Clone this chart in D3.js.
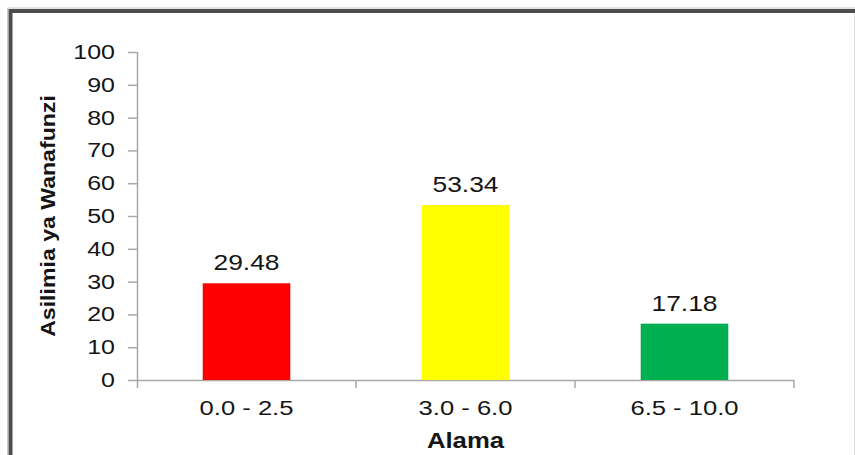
<!DOCTYPE html>
<html>
<head>
<meta charset="utf-8">
<script src="https://cdn.jsdelivr.net/npm/d3@7"></script>
<style>
  html, body { margin: 0; padding: 0; background: #fff; }
  svg { display: block; font-family: "Liberation Sans", Arial, sans-serif; }
</style>
</head>
<body>
<svg id="chart" width="855" height="455"></svg>
<script>
const categories = ["0.0 - 2.5", "3.0 - 6.0", "6.5 - 10.0"];
const values = [29.48, 53.34, 17.18];
const barColors = ["#ff0000", "#ffff00", "#00b050"];
const yTicks = [0, 10, 20, 30, 40, 50, 60, 70, 80, 90, 100];
const xTitle = "Alama";
const yTitle = "Asilimia ya Wanafunzi";

const W = 855, H = 455;
const plot = { left: 137, right: 794, top: 52, bottom: 380 };
const textColor = "#151515";
const axisColor = "#a8a8a8";

const svg = d3.select("#chart");

// frame
svg.append("path")
  .attr("d", `M10.5,${H}V11H${W}`)
  .attr("fill", "none")
  .attr("stroke", "#4d4d4d")
  .attr("stroke-width", 4);
svg.append("path")
  .attr("d", `M7.5,${H}V8H${W}`)
  .attr("fill", "none")
  .attr("stroke", "#c8c8c8")
  .attr("stroke-width", 1);
svg.append("line")
  .attr("x1", W - 0.5).attr("x2", W - 0.5)
  .attr("y1", 13).attr("y2", H)
  .attr("stroke", "#dcdcdc").attr("stroke-width", 1);

const x = d3.scaleBand()
  .domain(categories)
  .range([plot.left, plot.right])
  .paddingInner(0.6)
  .paddingOuter(0.3);

const y = d3.scaleLinear()
  .domain([0, 100])
  .range([plot.bottom, plot.top]);

// y axis
const yAxisG = svg.append("g")
  .attr("transform", `translate(${plot.left},0)`)
  .call(d3.axisLeft(y).tickValues(yTicks).tickSize(9).tickSizeOuter(0));
yAxisG.select(".domain")
  .attr("d", `M0.5,${y(100)}V${y(0) + 8}`)
  .attr("stroke", axisColor).attr("stroke-width", 1.5);
yAxisG.selectAll(".tick line").attr("stroke", axisColor).attr("stroke-width", 1.5);
const sTick = 1.25;
yAxisG.selectAll(".tick text")
  .attr("x", -22 / sTick)
  .attr("dy", "0.32em")
  .attr("transform", `scale(${sTick},1)`)
  .attr("fill", textColor)
  .attr("font-size", 20)
  .attr("font-family", "Liberation Sans, Arial, sans-serif");

// x axis
const xAxisG = svg.append("g")
  .attr("transform", `translate(0,${y(0)})`);
xAxisG.append("line")
  .attr("x1", plot.left).attr("x2", plot.right)
  .attr("y1", 0.5).attr("y2", 0.5)
  .attr("stroke", axisColor).attr("stroke-width", 1.5);
const boundaries = d3.range(1, categories.length + 1).map(i => plot.left + i * x.step());
xAxisG.selectAll("line.bt")
  .data(boundaries)
  .join("line")
  .attr("class", "bt")
  .attr("x1", d => d).attr("x2", d => d)
  .attr("y1", 0).attr("y2", 8)
  .attr("stroke", axisColor).attr("stroke-width", 1.5);
const sX = 1.22;
xAxisG.selectAll("text.xl")
  .data(categories)
  .join("text")
  .attr("class", "xl")
  .attr("transform", d => `translate(${x(d) + x.bandwidth() / 2},35) scale(${sX},1)`)
  .attr("text-anchor", "middle")
  .attr("font-size", 21)
  .attr("fill", textColor)
  .text(d => d);

// bars
svg.selectAll("rect.bar")
  .data(values)
  .join("rect")
  .attr("class", "bar")
  .attr("x", (d, i) => x(categories[i]))
  .attr("width", x.bandwidth())
  .attr("y", d => y(d))
  .attr("height", d => y(0) - y(d))
  .attr("fill", (d, i) => barColors[i]);

// value labels
const sV = 1.2;
svg.selectAll("text.val")
  .data(values)
  .join("text")
  .attr("class", "val")
  .attr("transform", (d, i) => `translate(${x(categories[i]) + x.bandwidth() / 2},${y(d) - 13}) scale(${sV},1)`)
  .attr("text-anchor", "middle")
  .attr("font-size", 22)
  .attr("fill", textColor)
  .text(d => d.toFixed(2));

// axis titles
svg.append("text")
  .attr("transform", `translate(${(plot.left + plot.right) / 2},448) scale(1.17,1)`)
  .attr("text-anchor", "middle")
  .attr("font-size", 22)
  .attr("font-weight", "bold")
  .attr("fill", textColor)
  .text(xTitle);

svg.append("text")
  .attr("transform", `translate(55,${(plot.top + plot.bottom) / 2}) rotate(-90) scale(1.1,1)`)
  .attr("text-anchor", "middle")
  .attr("font-size", 21)
  .attr("font-weight", "bold")
  .attr("fill", textColor)
  .text(yTitle);
</script>
</body>
</html>
